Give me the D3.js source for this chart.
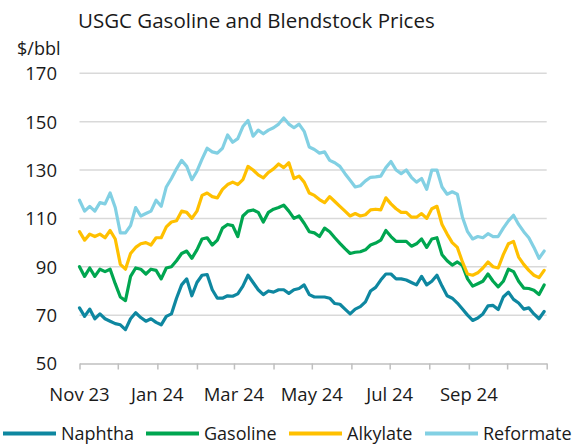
<!DOCTYPE html>
<html>
<head>
<meta charset="utf-8">
<script src="https://cdn.jsdelivr.net/npm/d3@7"></script>
<style>
  html, body { margin: 0; padding: 0; background: #fff; }
  svg { display: block; font-family: "Open Sans", "Noto Sans", sans-serif; }
</style>
</head>
<body>
<svg id="chart" width="577" height="445"></svg>
<script>
// USGC gasoline and blendstock prices, $/bbl, sampled every 4 days from 1 Nov 2023
const startDate = "2023-11-01";
const stepDays = 4;

const naphtha = [73,69.5,72.5,68.5,70.5,68.5,67.5,66.5,66,64,68.5,71,69,67.5,68.5,67,66,69.5,70.5,77,
  82.5,85,78,83.5,86.5,86.8,80.5,77,77,78,77.8,78.8,82,86.5,83.5,80.5,78.5,80,79.5,80.5,
  80.5,79,80.5,81,82.5,78.5,77.5,77.5,77.5,77,74.8,74.5,72.5,70.5,72.5,73.5,75.5,80,81.5,84.5,
  87,87,85,85,84.5,83.5,82.5,86,82.5,84,86.5,82,78,77,75,72.5,70,67.8,68.8,70.5,
  73.8,74,72.3,77.5,79.5,76.5,75,72.5,73,70.5,68.5,71.5];

const gasoline = [90,86,89.5,86,89,88,89,83,77.5,76,86,89.5,89,87,89,88.5,85,89.5,90,92.5,
  95.5,96.5,93.5,97,101.5,102,99,101,106,107.5,107,102.5,111,113,113.5,112.5,108.5,112.5,113.8,114.5,
  115.5,113,110,111,108,104.5,104,102.5,106,104.5,102,99.7,97.5,95.5,96,96.2,97,99,99.8,101,
  105,102.5,100.5,100.5,100.5,98.5,99.5,101.5,98,101.5,102,95,92.5,90.7,92,90.5,85,82,83,84,
  87,84,81.7,84,89,88,84,81.2,81,80.3,78.5,82.5];

const alkylate = [104.5,101,103.5,102.5,103.5,102,105,101.5,91,89,95.5,98,99.5,100,99,102,102,106.5,108.5,109,
  113,112.5,110,113,119.5,120.5,119,118.5,122,124,125,124,126,131.5,130,128,126.8,129,130.5,132.5,
  131,133,126.5,127.5,125,120.5,119.5,117.8,116.5,119,117,115,113,111,112,111,111.5,113.5,113.8,113.5,
  118.5,116,114,112.5,112.5,110.5,110.5,112,110,114,115,107.5,103.5,100,98,92,87,86.5,87.5,89.5,
  92,90,89.5,95,99.5,100.5,94,91,88.5,86.5,85.5,88.5];

const reformate = [117.5,113,115,113,116.5,116,120.5,114.5,104,104,107,114.5,111,112,113,117.5,115,123,126.5,130.5,
  134,131.5,126,129.5,134.5,139,137.5,137,139,144.5,141.5,143,148,150.5,144,146.5,145,146.5,147.5,149,
  151.5,149,147.5,149,146,139.5,138.5,137,137.5,134,133,131.5,128.5,125.8,123,123.5,125.5,127,127.2,127.5,
  131,133.5,130,128.5,130,127,125,126.5,122,130,130,123,120,121,120,110.5,104.5,101.5,102.5,102,
  103.7,102.5,102.5,106,109,111.3,107.5,104.5,102,98,93.5,96.5];

const seriesNames = ["Naphtha", "Gasoline", "Alkylate", "Reformate"];
const seriesColors = ["#0E87A0", "#00A650", "#FFC000", "#82D0E3"];
const yTicks = [50, 70, 90, 110, 130, 150, 170];
const xLabelMonths = ["2023-11-01", "2024-01-01", "2024-03-01", "2024-05-01", "2024-07-01", "2024-09-01"];

const parse = d3.utcParse("%Y-%m-%d");
const t0 = parse(startDate);
const dates = naphtha.map((_, i) => d3.utcDay.offset(t0, i * stepDays));
const allSeries = [naphtha, gasoline, alkylate, reformate];

const svg = d3.select("#chart");
const margin = { left: 80, right: 30, top: 73.3, bottom: 81.5 };
const W = 577, H = 445;

const x = d3.scaleUtc()
  .domain([parse("2023-11-01"), parse("2024-11-01")])
  .range([79.5, 546.7]);
const y = d3.scaleLinear()
  .domain([50, 170])
  .range([H - margin.bottom, margin.top]);

// Title
svg.append("text")
  .attr("x", 78).attr("y", 27.5)
  .attr("font-size", 20.5)
  .attr("fill", "#1a1a1a")
  .text("USGC Gasoline and Blendstock Prices");

// Unit label
svg.append("text")
  .attr("x", 17).attr("y", 55)
  .attr("font-size", 18)
  .attr("fill", "#1a1a1a")
  .text("$/bbl");

// Horizontal gridlines (skip the baseline, drawn as the x axis)
svg.append("g")
  .selectAll("line")
  .data(yTicks.filter(d => d !== 50))
  .join("line")
  .attr("x1", x.range()[0]).attr("x2", x.range()[1])
  .attr("y1", d => y(d)).attr("y2", d => y(d))
  .attr("stroke", "#D9D9D9")
  .attr("stroke-width", 1.5);

// Y axis labels
const yAxis = d3.axisLeft(y).tickValues(yTicks).tickSize(0).tickPadding(0);
const gy = svg.append("g")
  .attr("transform", "translate(57,0)")
  .call(yAxis);
gy.select(".domain").remove();
gy.selectAll("text")
  .attr("font-size", 18.5)
  .attr("font-family", "'Open Sans', 'Noto Sans', sans-serif")
  .attr("fill", "#1a1a1a")
  .attr("dy", "0.35em");

// X axis: monthly tick marks, labels every second month
const gx = svg.append("g")
  .attr("transform", `translate(0,${y(50)})`)
  .call(d3.axisBottom(x)
    .ticks(d3.utcMonth.every(1))
    .tickSizeInner(6).tickSizeOuter(0)
    .tickFormat(() => ""));
gx.select(".domain").attr("stroke", "#BFBFBF").attr("stroke-width", 1.5);
gx.selectAll(".tick line").attr("stroke", "#BFBFBF").attr("stroke-width", 1.5);

const fmt = d3.utcFormat("%b %y");
svg.append("g")
  .selectAll("text")
  .data(xLabelMonths.map(parse))
  .join("text")
  .attr("x", d => x(d))
  .attr("y", 400.5)
  .attr("text-anchor", "middle")
  .attr("font-size", 18.5)
  .attr("fill", "#1a1a1a")
  .text(d => fmt(d));

// Price lines
const line = d3.line()
  .x((d, i) => x(dates[i]))
  .y(d => y(d))
  .curve(d3.curveLinear);

svg.append("g")
  .selectAll("path")
  .data(allSeries)
  .join("path")
  .attr("d", d => line(d))
  .attr("fill", "none")
  .attr("stroke", (d, i) => seriesColors[i])
  .attr("stroke-width", 3.2)
  .attr("stroke-linejoin", "round")
  .attr("stroke-linecap", "round");

// Legend
const legendX = [3, 146, 289, 425];
const lg = svg.append("g")
  .selectAll("g")
  .data(seriesNames)
  .join("g")
  .attr("transform", (d, i) => `translate(${legendX[i]},433.5)`);
lg.append("line")
  .attr("x1", 0).attr("x2", 53)
  .attr("y1", 0).attr("y2", 0)
  .attr("stroke", (d, i) => seriesColors[i])
  .attr("stroke-width", 4);
lg.append("text")
  .attr("x", 58).attr("y", 0)
  .attr("dy", "0.35em")
  .attr("font-size", 18)
  .attr("fill", "#1a1a1a")
  .text(d => d);
</script>
</body>
</html>
